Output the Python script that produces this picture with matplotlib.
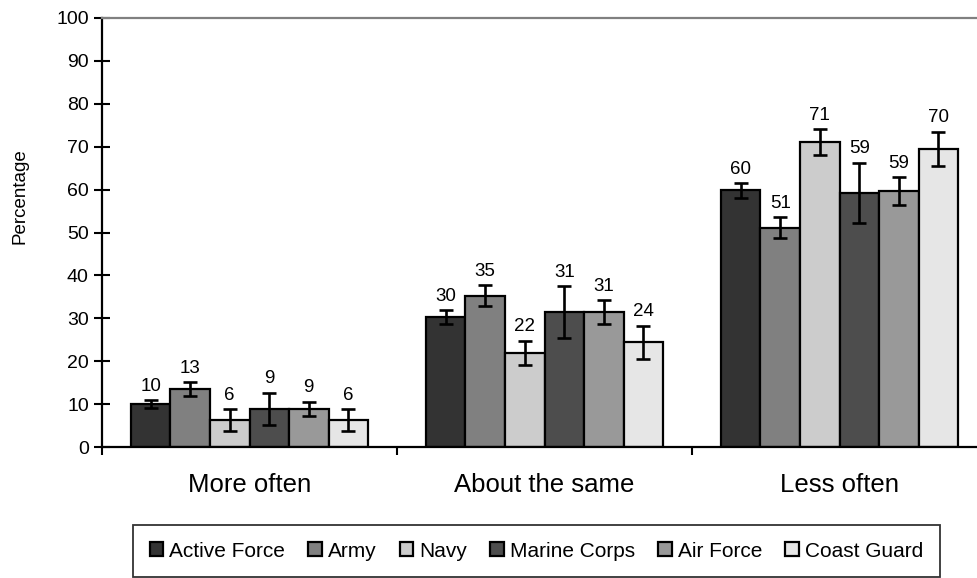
import matplotlib
matplotlib.use("Agg")
import matplotlib.pyplot as plt
import numpy as np

plt.rcParams['font.family'] = ['Liberation Sans', 'DejaVu Sans']

categories = ["More often", "About the same", "Less often"]
series = ["Active Force", "Army", "Navy", "Marine Corps", "Air Force", "Coast Guard"]
active_force = [10, 30, 60]
army = [13, 35, 51]
navy = [6, 22, 71]
marine_corps = [9, 31, 59]
air_force = [9, 31, 59]
coast_guard = [6, 24, 70]
# plotted heights (slightly more precise than the rounded labels)
active_force_h = [10.0, 30.3, 59.8]
army_h = [13.5, 35.3, 51.1]
navy_h = [6.3, 22.0, 71.1]
marine_corps_h = [8.9, 31.4, 59.2]
air_force_h = [8.9, 31.4, 59.7]
coast_guard_h = [6.3, 24.4, 69.5]
active_force_err = [0.9, 1.6, 1.7]
army_err = [1.6, 2.4, 2.4]
navy_err = [2.5, 2.8, 3.0]
marine_corps_err = [3.8, 6.1, 7.0]
air_force_err = [1.6, 2.8, 3.2]
coast_guard_err = [2.5, 3.8, 4.0]
y_ticks = [0, 10, 20, 30, 40, 50, 60, 70, 80, 90, 100]

labels = [active_force, army, navy, marine_corps, air_force, coast_guard]
heights = [active_force_h, army_h, navy_h, marine_corps_h, air_force_h, coast_guard_h]
errs = [active_force_err, army_err, navy_err, marine_corps_err, air_force_err, coast_guard_err]
colors = ["#333333", "#808080", "#cccccc", "#4d4d4d", "#999999", "#e6e6e6"]

fig = plt.figure(figsize=(9.77, 5.78), dpi=100)
ax = fig.add_axes([102/977, 131/578, 885/977, 429/578])

x = np.arange(len(categories))
bw = 0.134
n = len(series)
handles = []
for i in range(n):
    xs = x + (i - (n - 1) / 2) * bw
    b = ax.bar(xs, heights[i], width=bw, color=colors[i], edgecolor='black',
               linewidth=1.6, label=series[i], zorder=2)
    handles.append(b)
    ax.errorbar(xs, heights[i], yerr=errs[i], fmt='none', ecolor='black',
                elinewidth=1.9, capsize=5, capthick=1.9, zorder=3)
    for xx, h, e, lab in zip(xs, heights[i], errs[i], labels[i]):
        ax.annotate(str(lab), (xx, h + e), xytext=(0, 4), textcoords='offset points',
                    ha='center', va='bottom', fontsize=13.5)

ax.set_xlim(-0.5, 2.5)
ax.set_ylim(0, 100)
ax.set_yticks(y_ticks)
ax.tick_params(axis='y', direction='inout', length=11, width=1.5, labelsize=14, pad=4)
ax.set_xticks([-0.5, 0.5, 1.5, 2.5])
ax.set_xticklabels([])
ax.tick_params(axis='x', direction='out', length=6, width=1.5)
for xi, c in zip(x, categories):
    ax.text(xi, -0.0886, c, transform=ax.get_xaxis_transform(), ha='center', va='center', fontsize=18.5)

fig.text(20/977, 1 - 196/578, "Percentage", rotation=90, ha='center', va='center', fontsize=13.5)
ax.spines['left'].set_linewidth(1.6)
ax.spines['bottom'].set_linewidth(1.6)
ax.spines['top'].set_color('#808080')
ax.spines['top'].set_linewidth(1.6)
ax.spines['right'].set_visible(False)

leg = fig.legend(handles=handles, labels=series, loc='upper left',
                 bbox_to_anchor=(133/977, 1 - 525/578), ncol=6, frameon=True,
                 fancybox=False, edgecolor='black', fontsize=15,
                 handlelength=0.65, handleheight=0.65, handletextpad=0.3,
                 columnspacing=1.1, borderaxespad=0, borderpad=0.8)
leg.get_frame().set_linewidth(1.3)

fig.savefig("out.png", dpi=100)
